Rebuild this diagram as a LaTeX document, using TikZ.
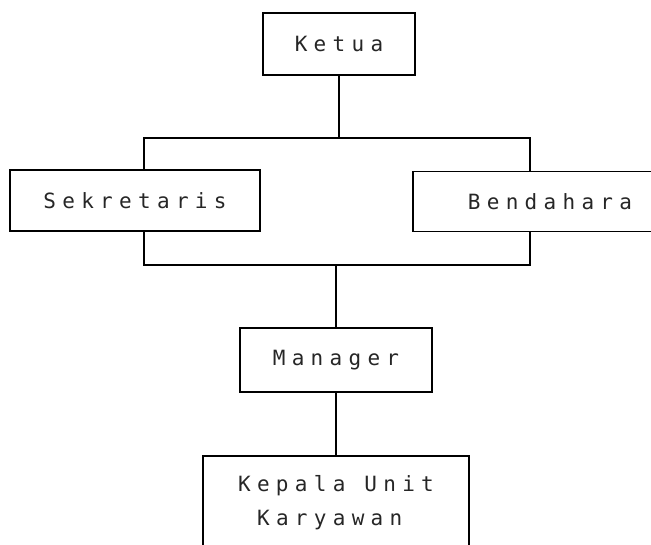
\documentclass[tikz,border=0pt]{standalone}
\usepackage{fontspec}
\newfontfamily\dotfont[LetterSpace=30]{DejaVu Sans Mono}
\usetikzlibrary{positioning}

\begin{document}
\begin{tikzpicture}[x=1pt, y=-1pt,
  every node/.style={font=\dotfont\fontsize{21}{34}\selectfont, text=black!85},
  unit/.style={draw, line width=1.1pt, inner sep=0pt},
  link/.style={line width=1.1pt}
]
  \useasboundingbox (0,0) rectangle (651,545);
  \clip (0,0) rectangle (651,545);

  % --- Boxes ---
  \node[unit, minimum width=152pt, minimum height=62pt] (ketua) at (339,44) {Ketua};
  \node[unit, minimum width=250pt, minimum height=61pt] (sekretaris) at (135,200.5) {Sekretaris};
  \node[unit, minimum width=274pt, minimum height=60pt] (bendahara) at (550,201.5) {Bendahara};
  \node[unit, minimum width=192pt, minimum height=64pt] (manager) at (336,360) {Manager};
  \node[unit, minimum width=266pt, minimum height=94pt, align=left] (kepala) at (336,503)
    {Kepala Unit\\~Karyawan};

  % --- Bus points ---
  \coordinate (upbus)   at (144,138);
  \coordinate (upbusR)  at (530,138);
  \coordinate (lowbus)  at (144,265);
  \coordinate (lowbusR) at (530,265);

  % --- Connectors ---
  \draw[link] (ketua.south) -- (ketua.south |- upbus);
  \draw[link] (sekretaris.north -| upbus) -- (upbus) -- (upbusR) -- (bendahara.north -| upbusR);
  \draw[link] (sekretaris.south -| lowbus) -- (lowbus) -- (lowbusR) -- (bendahara.south -| lowbusR);
  \draw[link] (manager.north) -- (manager.north |- lowbus);
  \draw[link] (manager.south) -- (kepala.north);

\end{tikzpicture}
\end{document}
